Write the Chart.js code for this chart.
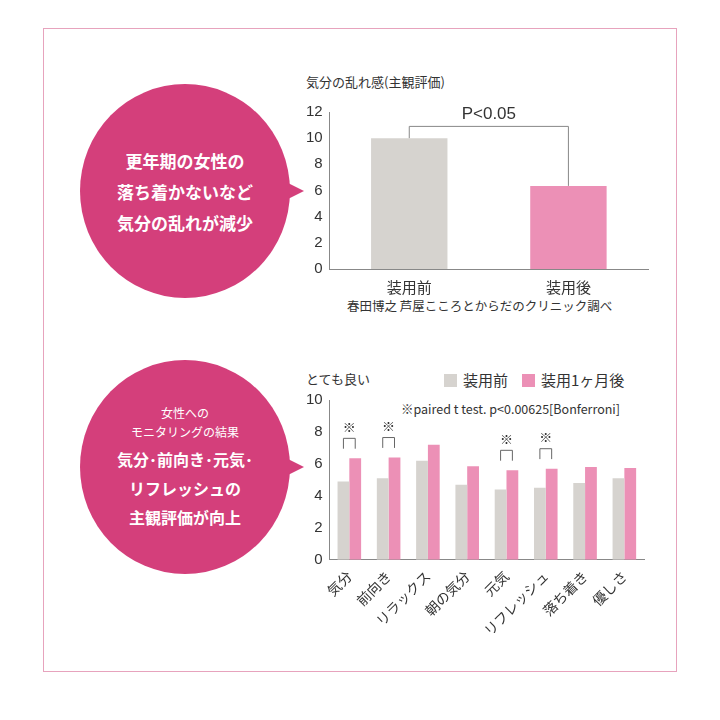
<!DOCTYPE html>
<html>
<head>
<meta charset="utf-8">
<script src="https://cdn.jsdelivr.net/npm/chart.js@4"></script>
<style>
body { margin:0; width:720px; height:720px; background:#fff; font-family:"Noto Sans CJK JP", sans-serif; color:#333; position:relative; overflow:hidden; }
.frame { position:absolute; left:43px; top:28px; width:634px; height:644px; border:1.5px solid #e7a3bd; box-sizing:border-box; }
.bubble { position:absolute; width:210px; height:214px; border-radius:50%; background:#d43f7b; color:#fff; text-align:center; display:flex; flex-direction:column; justify-content:center; font-weight:bold; }
.bubble:after { content:""; position:absolute; right:-14px; top:50%; margin-top:-9px; border-left:18px solid #d43f7b; border-top:9px solid transparent; border-bottom:9px solid transparent; }
.abs { position:absolute; white-space:nowrap; }
.box { display:inline-block; width:13px; height:13px; vertical-align:-1px; margin-right:6px; }
</style>
</head>
<body>
<div class="frame"></div>
<div class="bubble" style="left:80px;top:84px;font-size:17px;line-height:31px;">更年期の女性の<br>落ち着かないなど<br>気分の乱れが減少</div>
<div class="bubble" style="left:80px;top:360px;"><div style="font-size:12px;line-height:19px;font-weight:normal">女性への<br>モニタリングの結果</div><div style="font-size:16px;line-height:29px;margin-top:4px">気分･前向き･元気･<br>リフレッシュの<br>主観評価が向上</div></div>

<div class="abs" style="left:306px;top:72px;font-size:13px;">気分の乱れ感(主観評価)</div>
<div class="abs" style="left:347px;top:296px;font-size:12.5px;">春田博之 芦屋こころとからだのクリニック調べ</div>
<div class="abs" style="left:306px;top:369px;font-size:13px;">とても良い</div>
<div class="abs" style="left:444px;top:369px;font-size:15px;"><span class="box" style="background:#d6d3cf"></span>装用前<span class="box" style="background:#ec90b6;margin-left:14px"></span>装用1ヶ月後</div>
<div class="abs" style="left:401px;top:399px;font-size:12.5px;">※paired t test. p&lt;0.00625[Bonferroni]</div>

<div class="abs" style="left:304px;top:101px;width:352px;height:196px;"><canvas id="top"></canvas></div>
<div class="abs" style="left:304px;top:389px;width:344px;height:250px;"><canvas id="bottom"></canvas></div>

<script>
const topLabels = ['装用前', '装用後'];
const topValues = [10.0, 6.35];
const topTicks = [0, 2, 4, 6, 8, 10, 12];

const categories = ['気分', '前向き', 'リラックス', '朝の気分', '元気', 'リフレッシュ', '落ち着き', '優しさ'];
const beforeValues = [4.9, 5.1, 6.2, 4.7, 4.4, 4.5, 4.8, 5.1];
const afterValues = [6.35, 6.4, 7.2, 5.85, 5.6, 5.7, 5.8, 5.75];
const significant = [0, 1, 4, 5];

const grey = '#d6d3cf', pink = '#ec90b6', axisColor = '#888';
Chart.defaults.font.family = '"Liberation Sans", "Noto Sans CJK JP", sans-serif';
Chart.defaults.color = '#333';

function axisOpts(max, step, fontSize) {
    return {
        min: 0, max: max,
        ticks: { stepSize: step, font: { size: fontSize }, padding: 2 },
        grid: { display: false, drawTicks: true, tickLength: 5, color: axisColor },
        border: { color: axisColor }
    };
}

// crochet de signification au-dessus des barres
const topBracket = {
    id: 'topBracket',
    afterDatasetsDraw(chart) {
        const ctx = chart.ctx, y = chart.scales.y;
        const meta = chart.getDatasetMeta(0);
        const x1 = meta.data[0].x, x2 = meta.data[1].x, yTop = y.getPixelForValue(10.9);
        ctx.save();
        ctx.strokeStyle = axisColor; ctx.lineWidth = 1;
        ctx.beginPath();
        ctx.moveTo(x1, y.getPixelForValue(topValues[0]));
        ctx.lineTo(x1, yTop); ctx.lineTo(x2, yTop);
        ctx.lineTo(x2, y.getPixelForValue(topValues[1]));
        ctx.stroke();
        ctx.fillStyle = '#333'; ctx.font = '17px "Liberation Sans"';
        ctx.textAlign = 'center'; ctx.textBaseline = 'bottom';
        ctx.fillText('P<0.05', (x1 + x2) / 2, yTop - 4);
        ctx.restore();
    }
};

const sigBrackets = {
    id: 'sigBrackets',
    afterDatasetsDraw(chart) {
        const ctx = chart.ctx, y = chart.scales.y;
        const m0 = chart.getDatasetMeta(0), m1 = chart.getDatasetMeta(1);
        ctx.save();
        ctx.strokeStyle = '#666'; ctx.lineWidth = 1;
        ctx.fillStyle = '#333'; ctx.font = '13px "Noto Sans CJK JP"';
        ctx.textAlign = 'center'; ctx.textBaseline = 'middle';
        significant.forEach(i => {
            const x1 = m0.data[i].x, x2 = m1.data[i].x, v = afterValues[i];
            const yt = y.getPixelForValue(v + 1.25), yb = y.getPixelForValue(v + 0.6);
            ctx.beginPath();
            ctx.moveTo(x1, yb); ctx.lineTo(x1, yt); ctx.lineTo(x2, yt); ctx.lineTo(x2, yb);
            ctx.stroke();
            ctx.fillText('※', (x1 + x2) / 2, y.getPixelForValue(v + 1.95));
        });
        ctx.restore();
    }
};

new Chart(document.getElementById('top'), {
    type: 'bar',
    data: { labels: topLabels, datasets: [{ data: topValues, backgroundColor: [grey, pink], barPercentage: 0.48, categoryPercentage: 1 }] },
    options: {
        responsive: true, maintainAspectRatio: false, animation: false,
        layout: { padding: { top: 5, right: 8 } },
        plugins: { legend: { display: false }, tooltip: { enabled: false } },
        scales: {
            x: { grid: { display: false }, border: { color: axisColor }, ticks: { font: { size: 15, family: '"Noto Sans CJK JP"' }, padding: 1 } },
            y: axisOpts(12, 2, 15)
        }
    },
    plugins: [topBracket]
});

new Chart(document.getElementById('bottom'), {
    type: 'bar',
    data: {
        labels: categories,
        datasets: [
            { label: '装用前', data: beforeValues, backgroundColor: grey, barPercentage: 1, categoryPercentage: 0.6 },
            { label: '装用1ヶ月後', data: afterValues, backgroundColor: pink, barPercentage: 1, categoryPercentage: 0.6 }
        ]
    },
    options: {
        responsive: true, maintainAspectRatio: false, animation: false,
        layout: { padding: { top: 3, right: 4 } },
        plugins: { legend: { display: false }, tooltip: { enabled: false } },
        scales: {
            x: { grid: { display: false }, border: { color: axisColor }, ticks: { font: { size: 14, family: '"Noto Sans CJK JP"' }, maxRotation: 45, minRotation: 45, padding: 0 } },
            y: axisOpts(10, 2, 15)
        }
    },
    plugins: [sigBrackets]
});
</script>
</body>
</html>
